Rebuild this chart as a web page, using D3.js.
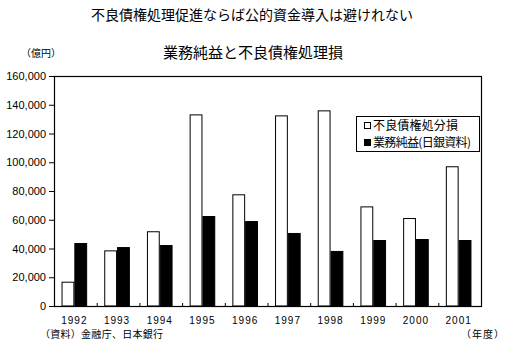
<!DOCTYPE html>
<html><head><meta charset="utf-8">
<script src="https://cdn.jsdelivr.net/npm/d3@7"></script>
<style>
html,body{margin:0;padding:0;background:#fff;}
text{font-family:"Noto Sans CJK JP","Liberation Sans",sans-serif;fill:#000;}
</style></head>
<body><div id="chart"></div>
<script>
const years = ["1992","1993","1994","1995","1996","1997","1998","1999","2000","2001"];
const seriesNames = ["不良債権処分損","業務純益(日銀資料)"];
const badLoanLoss = [16900, 38700, 52000, 133300, 77700, 132600, 136100, 69300, 61200, 97200];
const operatingProfit = [43800, 41000, 42400, 62600, 59100, 50800, 38300, 45900, 46600, 45900];
const yTicks = [0,20000,40000,60000,80000,100000,120000,140000,160000];

const W = 512, H = 346;
const m = {left:54, right:31, top:76, bottom:40};
const svg = d3.select("#chart").append("svg").attr("width",W).attr("height",H);

const x0 = d3.scaleBand().domain(years).range([m.left, W-m.right]).paddingInner(0.4).paddingOuter(0.2);
const x1 = d3.scaleBand().domain([0,1]).range([0, x0.bandwidth()]);
const y = d3.scaleLinear().domain([0,160000]).range([H-m.bottom, m.top]);

const data = years.map((yr,i)=>({yr, vals:[badLoanLoss[i], operatingProfit[i]]}));

// titles
svg.append("text").attr("x",252).attr("y",20).attr("text-anchor","middle").style("font-size","14px")
  .text("不良債権処理促進ならば公的資金導入は避けれない");
svg.append("text").attr("x",253).attr("y",58).attr("text-anchor","middle").style("font-size","15px")
  .text("業務純益と不良債権処理損");
svg.append("text").attr("x",41).attr("y",57).attr("text-anchor","middle").style("font-size","10px")
  .text("（億円）");

// y axis
const ya = svg.append("g").attr("transform",`translate(${m.left},0)`)
  .call(d3.axisLeft(y).tickValues(yTicks).tickFormat(d3.format(",")).tickSize(5).tickPadding(3));
ya.select(".domain").remove();
ya.selectAll("text").style("font-size","11px").style("font-family","'Liberation Sans',sans-serif");
ya.selectAll("line").attr("stroke","#000");

// bars
const g = svg.append("g");
const grp = g.selectAll("g").data(data).join("g").attr("transform",d=>`translate(${x0(d.yr)-1},0)`);
grp.selectAll("rect").data(d=>d.vals.map((v,k)=>({v,k}))).join("rect")
  .attr("x",d=>x1(d.k)+0.5).attr("y",d=>y(d.v)+0.5)
  .attr("width",x1.bandwidth()-1).attr("height",d=>y(0)-y(d.v)-0.5)
  .attr("fill",d=>d.k===0?"#fff":"#000").attr("stroke","#000").attr("stroke-width",1);

// frame
svg.append("rect").attr("x",m.left+0.5).attr("y",m.top+0.5)
  .attr("width",W-m.right-m.left).attr("height",H-m.bottom-m.top)
  .attr("fill","none").attr("stroke","#000").attr("stroke-width",1.2);

// x category ticks (inward)
const step = x0.step();
svg.append("g").selectAll("line").data(years.slice(1)).join("line")
  .attr("x1",(d)=>x0(d)-x0.paddingInner()*step/2+0.5).attr("x2",(d)=>x0(d)-x0.paddingInner()*step/2+0.5)
  .attr("y1",y(0)).attr("y2",y(0)-3).attr("stroke","#000");

// x labels
svg.append("g").selectAll("text").data(years).join("text")
  .attr("x",d=>x0(d)+x0.bandwidth()/2-1).attr("y",y(0)+17.5).attr("text-anchor","middle")
  .style("font-size","10px").style("letter-spacing","1px").style("font-family","'Liberation Sans',sans-serif")
  .text(d=>d);

// source / unit
svg.append("text").attr("x",40).attr("y",338).style("font-size","10px").attr("textLength",123)
  .text("（資料）金融庁、日本銀行");
svg.append("text").attr("x",461).attr("y",338).style("font-size","10px").attr("textLength",43)
  .text("（年度）");

// legend
const lg = svg.append("g");
lg.append("rect").attr("x",356.5).attr("y",116.5).attr("width",123).attr("height",35)
  .attr("fill","#fff").attr("stroke","#000");
seriesNames.forEach((name,k)=>{
  const cy = k===0?125.5:142.5;
  lg.append("rect").attr("x",364.5).attr("y",cy-3).attr("width",6).attr("height",6)
    .attr("fill",k===0?"#fff":"#000").attr("stroke","#000");
  lg.append("text").attr("x",373).attr("y",cy+4.5).style("font-size","12px")
    .attr("textLength",k===0?85:98).text(name);
});
</script></body></html>
